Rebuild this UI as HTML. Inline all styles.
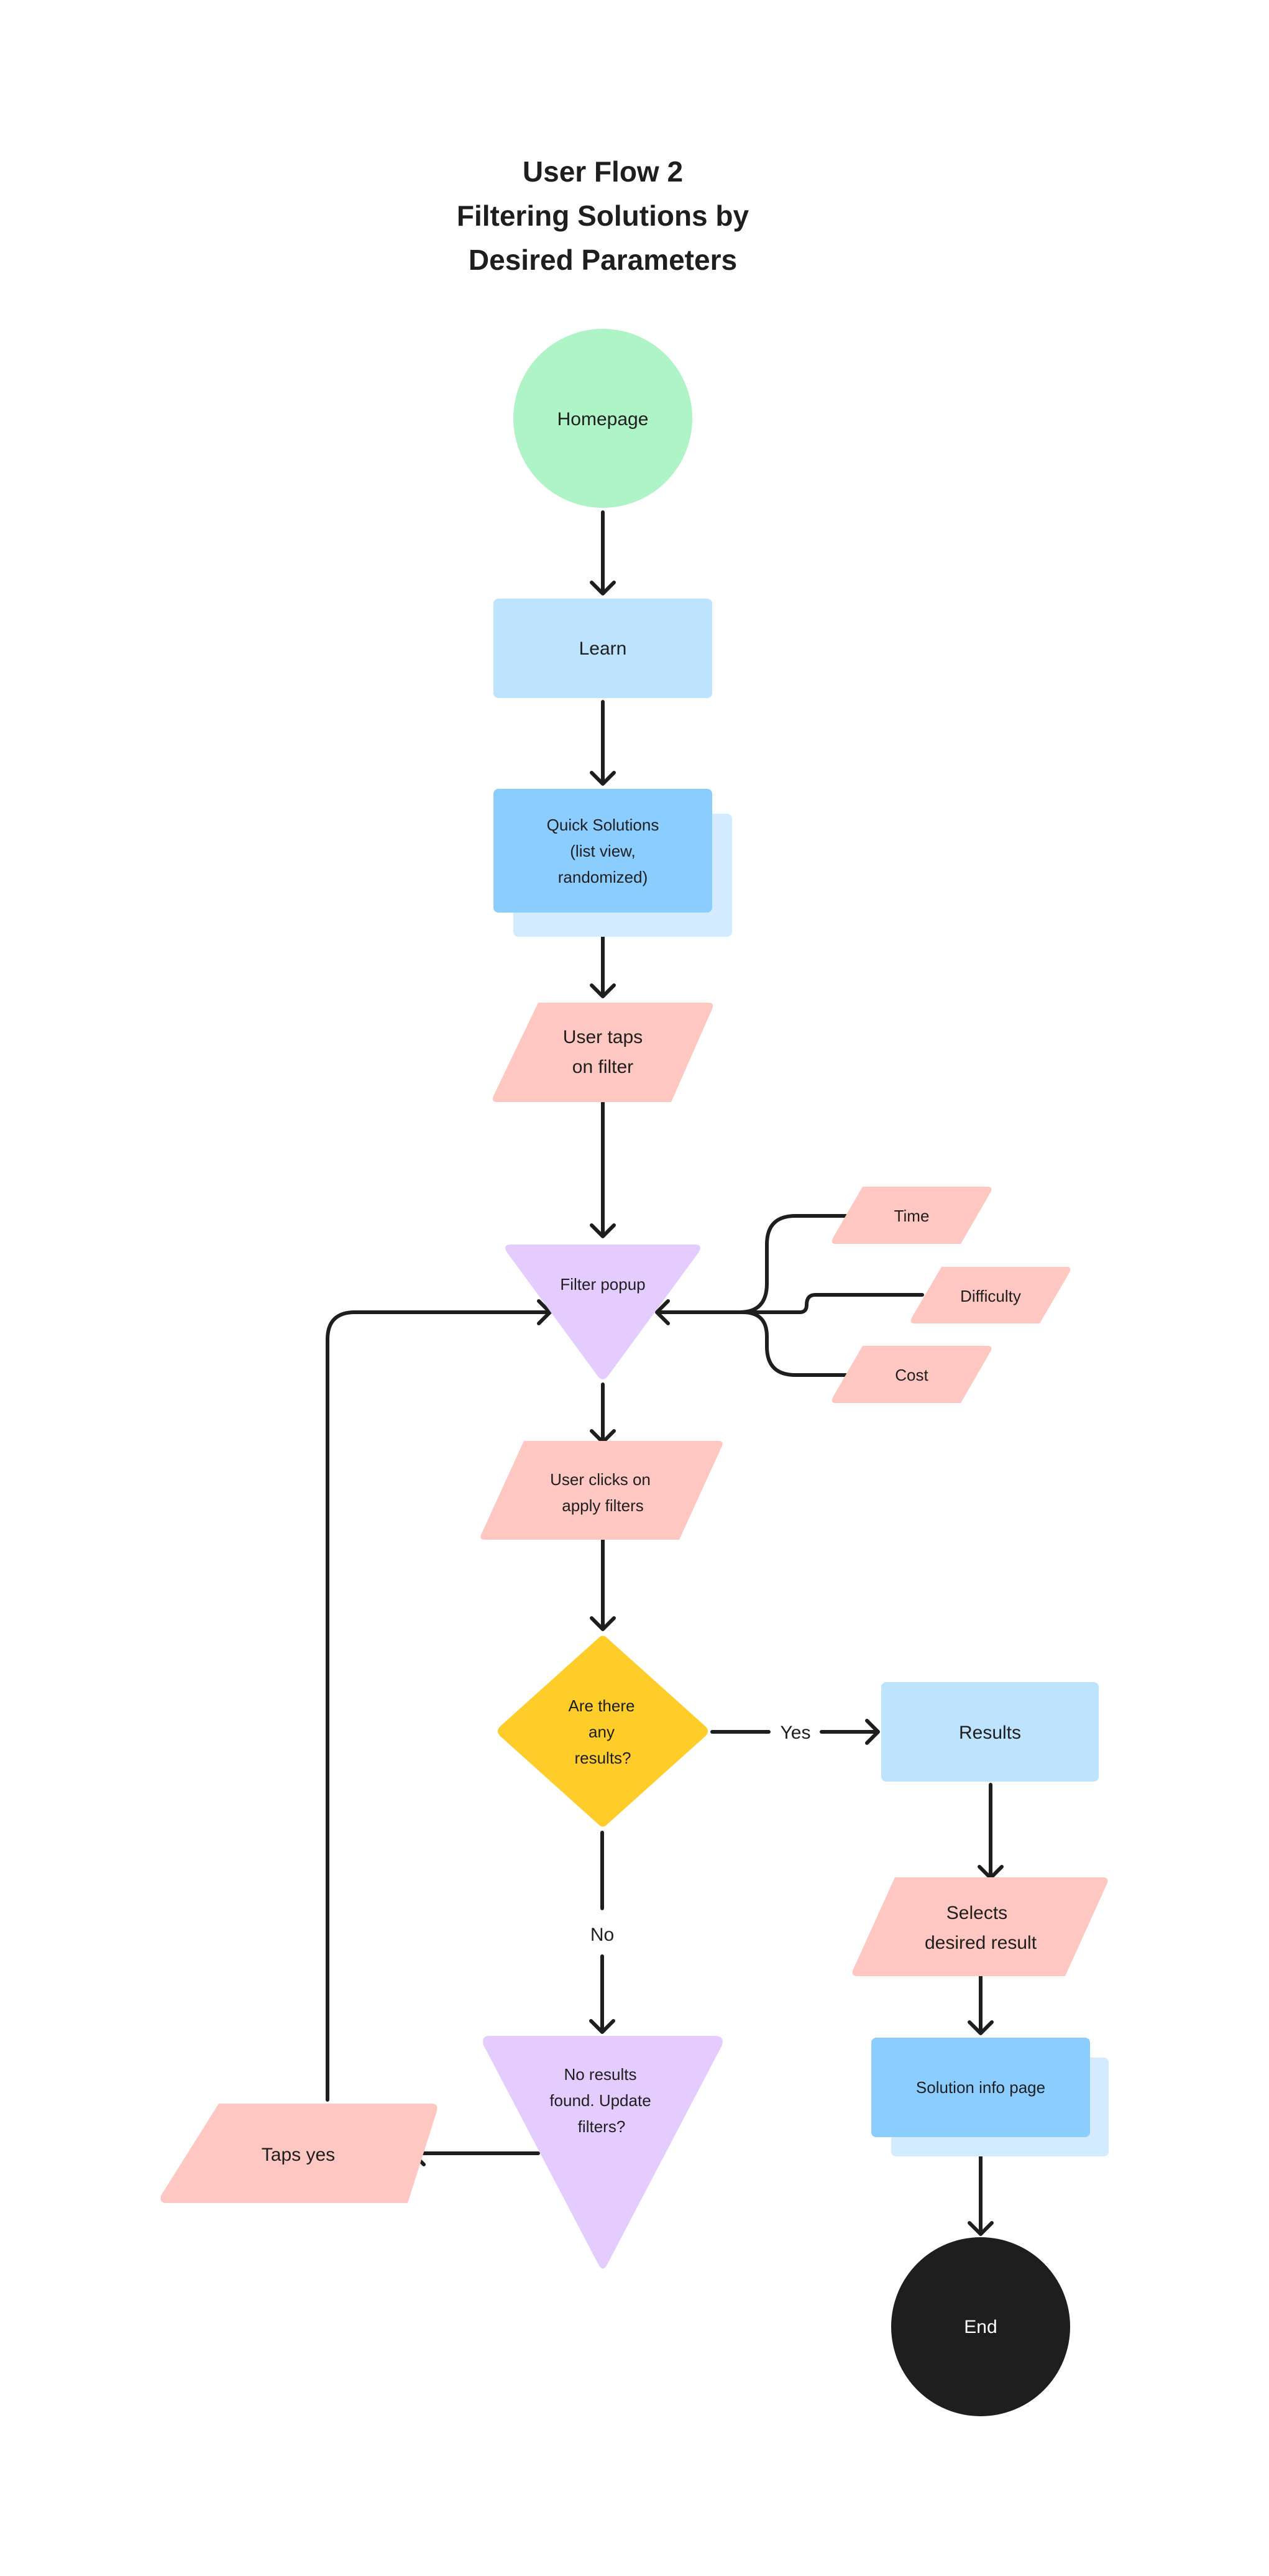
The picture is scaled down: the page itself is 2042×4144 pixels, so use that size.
<!DOCTYPE html>
<html><head><meta charset="utf-8"><style>
html,body{margin:0;padding:0;background:#fff;}
svg{display:block;}
text{font-family:"Liberation Sans",sans-serif;fill:#1e1e1e;text-anchor:middle;}
</style></head><body>
<svg width="2042" height="4144" viewBox="0 0 2042 4144" xmlns="http://www.w3.org/2000/svg">
<rect width="2042" height="4144" fill="#fff"/>
<g font-weight="bold" font-size="46">
<text x="970" y="292">User Flow 2</text>
<text x="970" y="363">Filtering Solutions by</text>
<text x="970" y="434">Desired Parameters</text>
</g>
<g fill="none" stroke="#1e1e1e" stroke-width="6" stroke-linecap="round" stroke-linejoin="round">
<!-- straight arrows -->
<path d="M970 824V955M952 937L970 955L988 937"/>
<path d="M970 1129V1261M952 1243L970 1261L988 1243"/>
<path d="M970 1473V1603M952 1585L970 1603L988 1585"/>
<path d="M970 1773V1989M952 1971L970 1989L988 1971"/>
<path d="M970 2227V2320M952 2302L970 2320L988 2302"/>
<path d="M970 2477V2621M952 2603L970 2621L988 2603"/>
<path d="M1146 2786H1237M1322 2786H1413M1395 2768L1413 2786L1395 2804"/>
<path d="M1594 2871V3021M1576 3003L1594 3021L1612 3003"/>
<path d="M1578 3179V3271M1560 3253L1578 3271L1596 3253"/>
<path d="M1578 3444V3594M1560 3576L1578 3594L1596 3576"/>
<path d="M969 2948V3070M969 3147V3269M951 3251L969 3269L987 3251"/>
<path d="M866 3464H664M682 3446L664 3464L682 3482"/>
<!-- loop -->
<path d="M527 3378V2155Q527 2111 571 2111H885M867 2093L885 2111L867 2129"/>
<!-- branches -->
<path d="M1200 2111H1057M1075 2093L1057 2111L1075 2129"/>
<path d="M1361 1956H1280Q1234 1956 1234 2002V2065Q1234 2111 1190 2111"/>
<path d="M1361 2212H1280Q1234 2212 1234 2166V2150Q1234 2111 1195 2111"/>
<path d="M1200 2111H1287Q1298 2111 1298 2099Q1298 2083 1312 2083H1484"/>
</g>
<!-- Homepage -->
<circle cx="970" cy="673" r="144" fill="#aff4c6"/>
<text x="970" y="684" font-size="30">Homepage</text>
<!-- Learn -->
<rect x="794" y="963" width="352" height="160" rx="8" fill="#bde3ff"/>
<text x="970" y="1053" font-size="30">Learn</text>
<!-- Quick Solutions -->
<rect x="826" y="1309" width="352" height="198" rx="8" fill="#d2ebff"/>
<rect x="794" y="1269" width="352" height="199" rx="8" fill="#8bcdff"/>
<g font-size="26"><text x="970" y="1336">Quick Solutions</text><text x="970" y="1378">(list view,</text><text x="970" y="1420">randomized)</text></g>
<!-- User taps -->
<path d="M866 1613H1140Q1150 1613 1146 1623L1080 1773H800Q790 1773 794 1763Z" fill="#ffc7c2"/>
<g font-size="30"><text x="970" y="1678">User taps</text><text x="970" y="1726">on filter</text></g>
<!-- Filter popup -->
<path d="M822 2002H1118Q1132 2002 1124 2015L978 2214Q970 2224 962 2214L816 2015Q808 2002 822 2002Z" fill="#e4ccff"/>
<text x="970" y="2075" font-size="26">Filter popup</text>
<!-- Time / Difficulty / Cost -->
<path d="M1388 1909H1590Q1598 1909 1594 1918L1546 2001H1344Q1336 2001 1340 1992Z" fill="#ffc7c2"/>
<text x="1467" y="1965" font-size="26">Time</text>
<path d="M1515 2038H1717Q1725 2038 1721 2047L1673 2129H1471Q1463 2129 1467 2120Z" fill="#ffc7c2"/>
<text x="1594" y="2094" font-size="26">Difficulty</text>
<path d="M1388 2165H1590Q1598 2165 1594 2174L1546 2257H1344Q1336 2257 1340 2248Z" fill="#ffc7c2"/>
<text x="1467" y="2221" font-size="26">Cost</text>
<!-- User clicks -->
<path d="M843 2318H1156Q1166 2318 1161 2328L1093 2477H780Q770 2477 775 2467Z" fill="#ffc7c2"/>
<g font-size="26"><text x="966" y="2389">User clicks on</text><text x="970" y="2431">apply filters</text></g>
<!-- Diamond -->
<path d="M962 2636Q970 2627 978 2636L1135 2777Q1143 2785 1135 2793L978 2934Q970 2943 962 2934L805 2793Q797 2785 805 2777Z" fill="#ffcd29"/>
<g font-size="26"><text x="968" y="2753">Are there</text><text x="968" y="2795">any</text><text x="970" y="2837">results?</text></g>
<text x="1280" y="2797" font-size="30">Yes</text>
<text x="969" y="3122" font-size="30">No</text>
<!-- Results -->
<rect x="1418" y="2706" width="350" height="160" rx="8" fill="#bde3ff"/>
<text x="1593" y="2797" font-size="30">Results</text>
<!-- Selects -->
<path d="M1440 3020H1774Q1786 3020 1781 3031L1714 3179H1380Q1368 3179 1373 3168Z" fill="#ffc7c2"/>
<g font-size="30"><text x="1572" y="3087">Selects</text><text x="1578" y="3135">desired result</text></g>
<!-- Solution info page -->
<rect x="1434" y="3310" width="350" height="159" rx="8" fill="#d2ebff"/>
<rect x="1402" y="3278" width="352" height="160" rx="8" fill="#8bcdff"/>
<text x="1578" y="3367" font-size="26">Solution info page</text>
<!-- No results -->
<path d="M788 3275H1150Q1166 3275 1162 3290L977 3643Q970 3656 963 3643L778 3290Q774 3275 788 3275Z" fill="#e4ccff"/>
<g font-size="26"><text x="966" y="3346">No results</text><text x="966" y="3388">found. Update</text><text x="968" y="3430">filters?</text></g>
<!-- Taps yes -->
<path d="M352 3384H694Q706 3384 703 3396L656 3544H268Q256 3544 259 3532Z" fill="#ffc7c2"/>
<text x="480" y="3476" font-size="30">Taps yes</text>
<!-- End -->
<circle cx="1578" cy="3743" r="144" fill="#1e1e1e"/>
<text x="1578" y="3753" font-size="30" style="fill:#fff">End</text>
</svg>
</body></html>
